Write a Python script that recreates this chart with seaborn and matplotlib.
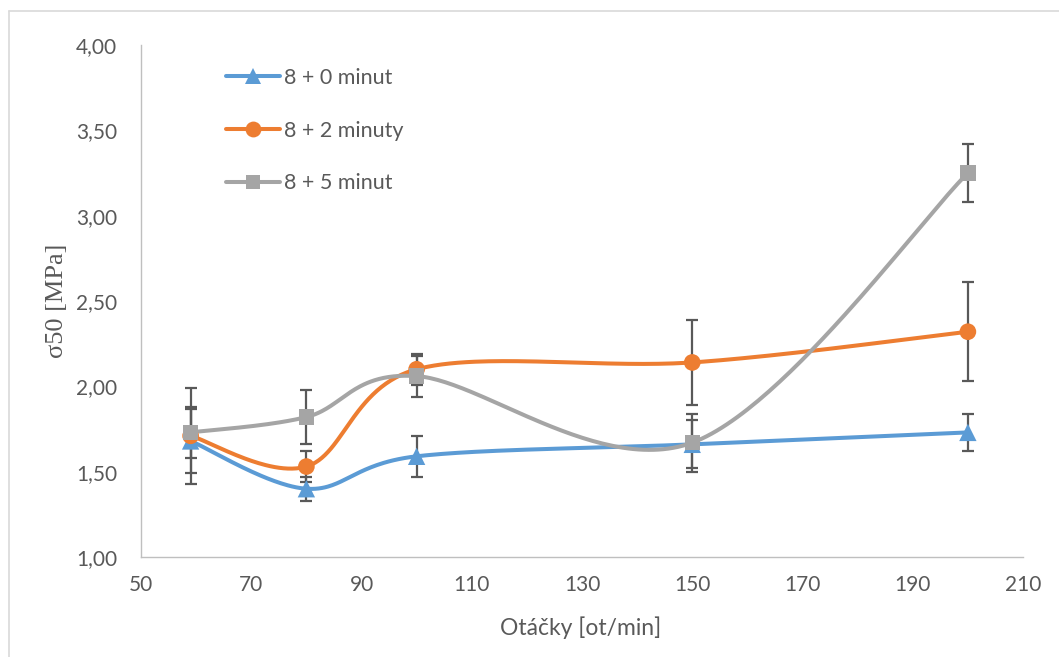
import numpy as np
import pandas as pd
import matplotlib
matplotlib.use("Agg")
import matplotlib.pyplot as plt
from matplotlib.lines import Line2D
import seaborn as sns

# Rotational speed [ot/min]
otacky = [59, 80, 100, 150, 200]

# sigma50 [MPa] and error (standard deviation) for each mixing time
s_8_0 = [1.68, 1.40, 1.59, 1.66, 1.73]
e_8_0 = [0.19, 0.07, 0.12, 0.14, 0.11]
s_8_2 = [1.71, 1.53, 2.10, 2.14, 2.32]
e_8_2 = [0.28, 0.09, 0.09, 0.25, 0.29]
s_8_5 = [1.73, 1.82, 2.06, 1.67, 3.25]
e_8_5 = [0.15, 0.16, 0.12, 0.17, 0.17]

series_names = ["8 + 0 minut", "8 + 2 minuty", "8 + 5 minut"]
y_ticks = [1.0, 1.5, 2.0, 2.5, 3.0, 3.5, 4.0]
y_tick_labels = ["1,00", "1,50", "2,00", "2,50", "3,00", "3,50", "4,00"]
x_ticks = [50, 70, 90, 110, 130, 150, 170, 190, 210]

colors = ["#5B9BD5", "#ED7D31", "#A5A5A5"]
markers = ["^", "o", "s"]
marker_sizes = [12.5, 12, 11]


def smooth_curve(xs, ys, n=60):
    """Cubic Bezier smoothing through the points (Catmull-Rom style)."""
    p = np.column_stack([xs, ys]).astype(float)
    out = []
    for i in range(len(p) - 1):
        p0 = p[i - 1] if i > 0 else p[i]
        p1, p2 = p[i], p[i + 1]
        p3 = p[i + 2] if i + 2 < len(p) else p[i + 1]
        c1 = p1 + (p2 - p0) / 6.0
        c2 = p2 - (p3 - p1) / 6.0
        t = np.linspace(0, 1, n)[:, None]
        seg = ((1 - t) ** 3) * p1 + 3 * ((1 - t) ** 2) * t * c1 \
            + 3 * (1 - t) * t ** 2 * c2 + t ** 3 * p2
        out.append(seg if i == 0 else seg[1:])
    c = np.vstack(out)
    return c[:, 0], c[:, 1]


sns.set_theme(style="white")
plt.rcParams["font.family"] = ["Lato", "DejaVu Sans"]

fig = plt.figure(figsize=(10.59, 6.57), dpi=100)
ax = fig.add_axes([141 / 1059, 1 - 557 / 657, (1023 - 141) / 1059, (557 - 45) / 657])

values = [s_8_0, s_8_2, s_8_5]
errors = [e_8_0, e_8_2, e_8_5]

for k, (name, vals, errs) in enumerate(zip(series_names, values, errors)):
    cx, cy = smooth_curve(otacky, vals)
    curve = pd.DataFrame({"x": cx, "y": cy})
    sns.lineplot(data=curve, x="x", y="y", ax=ax, color=colors[k], lw=2.9,
                 sort=False, estimator=None, zorder=2 + k * 0.1)
    ax.errorbar(otacky, vals, yerr=errs, fmt="none", ecolor="#595959",
                elinewidth=1.6, capsize=4.5, capthick=1.6, zorder=3)
    pts = pd.DataFrame({"x": otacky, "y": vals})
    sns.scatterplot(data=pts, x="x", y="y", ax=ax, color=colors[k],
                    marker=markers[k], s=marker_sizes[k] ** 2,
                    edgecolor="none", linewidth=0, zorder=4 + k * 0.1)

ax.set_xlim(50, 210)
ax.set_ylim(1.0, 4.0)
ax.set_xticks(x_ticks)
ax.set_xticklabels([str(v) for v in x_ticks])
ax.set_yticks(y_ticks)
ax.set_yticklabels(y_tick_labels)
ax.set_xlabel("")
ax.set_ylabel("")
ax.tick_params(axis="both", length=0, labelsize=15, labelcolor="#595959")
ax.tick_params(axis="y", pad=17)
ax.tick_params(axis="x", pad=13)

for side in ["top", "right"]:
    ax.spines[side].set_visible(False)
for side in ["left", "bottom"]:
    ax.spines[side].set_color("#BFBFBF")
    ax.spines[side].set_linewidth(1.0)
ax.grid(False)

fig.text(581 / 1059, 1 - 628 / 657, "Otáčky [ot/min]", ha="center", va="center",
         fontsize=16.5, color="#595959")
fig.text(57 / 1059, 1 - 301 / 657, "σ50 [MPa]", ha="center", va="center",
         rotation=90, fontsize=19, color="#595959",
         family=["Liberation Serif", "DejaVu Serif"])

handles = [Line2D([0], [0], color=colors[k], lw=2.9, marker=markers[k],
                  markersize=marker_sizes[k] * 0.95, markeredgewidth=0)
           for k in range(3)]
leg = ax.legend(handles, series_names, loc="upper left",
                bbox_to_anchor=(226 / 1059, 1 - 68 / 657),
                bbox_transform=fig.transFigure, frameon=False, fontsize=15.5,
                handlelength=2.5, handletextpad=0.19, labelspacing=1.52,
                borderaxespad=0, borderpad=0)
for t in leg.get_texts():
    t.set_color("#595959")

# chart area frame
fig.add_artist(Line2D([8.5 / 1059, 8.5 / 1059], [0, 1 - 11 / 657],
                      transform=fig.transFigure, color="#D9D9D9", lw=1.2))
fig.add_artist(Line2D([8.5 / 1059, 1], [1 - 11 / 657, 1 - 11 / 657],
                      transform=fig.transFigure, color="#D9D9D9", lw=1.2))

fig.savefig("out.png", dpi=100, facecolor="white")
